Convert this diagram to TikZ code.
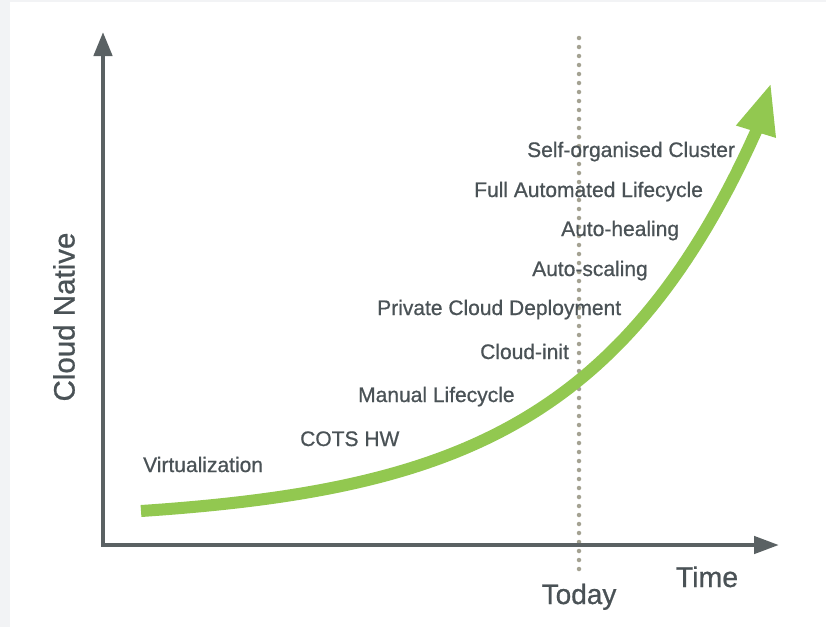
\documentclass[tikz,border=0pt]{standalone}
\usepackage{fontspec}
\setmainfont{Liberation Sans}[BoldFont={Liberation Sans}, BoldFeatures={FakeBold=0.7}]
\usetikzlibrary{arrows.meta}
\definecolor{axisgray}{RGB}{90,97,99}
\definecolor{textgray}{RGB}{74,82,86}
\definecolor{dotgray}{RGB}{164,162,146}
\definecolor{curvegreen}{RGB}{146,200,80}
\definecolor{pagegray}{RGB}{242,243,245}
\tikzset{
  milestone/.style={anchor=base west, inner sep=0pt, text=textgray,
    font=\fontsize{21}{25}\selectfont\bfseries},
  axislabel/.style={inner sep=0pt, text=textgray}
}
\begin{document}
\begin{tikzpicture}[x=1pt,y=-1pt]
\useasboundingbox (0,0) rectangle (826,627);
\fill[pagegray] (0,0) rectangle (826,627);
\fill[white] (10,2) rectangle (826,627);

% today
\draw[dotgray, line width=4.5pt, line cap=round, dash pattern=on 0pt off 9pt] (579,38) -- (579,574);

% axes
\coordinate (ytip) at (103,32);
\coordinate (origin) at (103,545);
\coordinate (xtip) at (779,545);
\draw[axisgray, line width=4.5pt,
  {Triangle[length=24pt,width=18pt]}-{Triangle[length=25pt,width=17pt]}]
  (ytip) -- (origin) -- (xtip);

% growth curve
\coordinate (headtip) at (771,83);
\draw[curvegreen, line width=12pt, line join=round, -{Triangle[length=51pt,width=38pt]}]
  plot[domain=141:756, samples=90] (\x, {511-11.7*(exp(0.0057*(\x-141))-1)}) -- (headtip);

\node[milestone] (cluster) at (527,157) {Self-organised Cluster};
\node[milestone] (lifecycle) at (474,197) {Full Automated Lifecycle};
\node[milestone] (healing) at (561,236) {Auto-healing};
\node[milestone] (scaling) at (532,276) {Auto-scaling};
\node[milestone] (private) at (377,315) {Private Cloud Deployment};
\node[milestone] (init) at (480,359) {Cloud-init};
\node[milestone] (manual) at (358,402) {Manual Lifecycle};
\node[milestone] (cots) at (300,446) {COTS HW};
\node[milestone] (virt) at (143,472) {Virtualization};

\node[axislabel, rotate=90, font=\fontsize{29.5}{34}\selectfont\bfseries] (native) at (64,317) {Cloud Native};
\node[axislabel, anchor=base, font=\fontsize{28.5}{33}\selectfont\bfseries] (time) at (707,587) {Time};
\node[axislabel, anchor=base, font=\fontsize{28}{33}\selectfont\bfseries] (today) at (579,604) {Today};
\end{tikzpicture}
\end{document}
